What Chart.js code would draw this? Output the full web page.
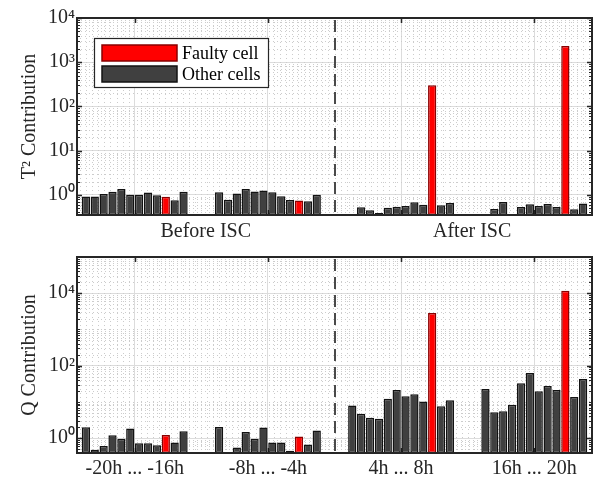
<!DOCTYPE html>
<html><head><meta charset="utf-8">
<script src="https://cdn.jsdelivr.net/npm/chart.js@4.4.1/dist/chart.umd.min.js"></script>
<style>
html,body{margin:0;padding:0;background:#fff;}
#wrap{position:relative;width:594px;height:484px;overflow:hidden;}
canvas{position:absolute;left:0;}
#c1{top:0;}
#c2{top:240px;}
</style></head><body>
<div id="wrap"><canvas id="c1" width="594" height="240"></canvas><canvas id="c2" width="594" height="244"></canvas></div>
<script>
// ---------- data ----------
const seriesLabels = ['Faulty cell', 'Other cells'];
const phaseLabels = ['Before ISC', 'After ISC'];
const windowLabels = ['-20h ... -16h', '-8h ... -4h', '4h ... 8h', '16h ... 20h'];
const faultyCellIndex = 9;           // 10th cell of each window is the faulty one
const windowStart = [1, 16, 31, 46]; // category slot of first cell of each window
const windowCenters = [6.5, 21.5, 36.5, 51.5];
const phaseCenters = [14.5, 44.5];
const dividerPos = 29;

const t2Win1 = [0.92, 0.92, 1.05, 1.17, 1.35, 1.0, 1.0, 1.13, 0.98, 0.90, 0.75, 1.17];
const t2Win2 = [1.15, 0.77, 1.07, 1.35, 1.19, 1.25, 1.15, 0.93, 0.76, 0.74, 0.72, 1.0];
const t2Win3 = [0.34, 0.525, 0.45, 0.39, 0.51, 0.54, 0.56, 0.68, 0.60, 300, 0.58, 0.65];
const t2Win4 = [0.34, 0.48, 0.69, 0.35, 0.53, 0.61, 0.56, 0.62, 0.53, 2340, 0.47, 0.64];

const qWin1 = [2.0, 0.48, 0.61, 1.21, 0.96, 1.84, 0.73, 0.73, 0.64, 1.23, 0.76, 1.56];
const qWin2 = [2.05, 0.38, 0.55, 1.49, 0.97, 1.96, 0.76, 0.76, 0.45, 1.11, 0.67, 1.62];
const qWin3 = [7.96, 4.71, 3.66, 3.43, 12.2, 21.5, 14.3, 16.3, 10.3, 2870, 7.6, 11.1];
const qWin4 = [22.9, 5.21, 5.55, 8.33, 32.6, 63, 19.7, 27.7, 21.5, 11800, 13.8, 43.1];

const t2Ticks = [1, 10, 100, 1000, 10000];
const qTicks = [1, 100, 10000];

// ---------- helpers ----------
const FONT = "'Liberation Serif', 'Times New Roman', serif";
const INK = '#262626';
Chart.defaults.font.family = FONT;
Chart.defaults.color = INK;

const SUP = '⁰¹²³⁴⁵⁶⁷⁸⁹';
function powLabel(v) {
  const e = Math.round(Math.log10(v));
  return '10' + String(e).split('').map(c => c === '-' ? '⁻' : SUP[+c]).join('');
}

function buildDatasets(wins) {
  const faulty = [], other = [];
  wins.forEach((vals, w) => vals.forEach((v, i) => {
    const pt = {x: windowStart[w] + i, y: v};
    (i === faultyCellIndex ? faulty : other).push(pt);
  }));
  const common = {borderWidth: 1.5, barPercentage: 0.93, categoryPercentage: 1.0, grouped: false, borderSkipped: false};
  return [
    Object.assign({label: seriesLabels[0], data: faulty, backgroundColor: '#ff0000', borderColor: '#8a0000'}, common),
    Object.assign({label: seriesLabels[1], data: other, backgroundColor: '#404040', borderColor: '#121212'}, common)
  ];
}

const decorPlugin = {
  id: 'decor',
  beforeDatasetsDraw(chart, args, opts) {
    const {ctx, chartArea: a} = chart;
    const ys = chart.scales.y, xs = chart.scales.x;
    const major = opts.yMajor;
    ctx.save();
    ctx.beginPath(); ctx.rect(a.left, a.top, a.right - a.left, a.bottom - a.top); ctx.clip();
    // minor log grid
    ctx.strokeStyle = '#cccccc'; ctx.lineWidth = 1; ctx.setLineDash([1, 3]);
    const minors = [];
    for (let e = -2; e <= 6; e++) for (let k = 1; k <= 9; k++) {
      const v = k * Math.pow(10, e);
      if (v > ys.min && v < ys.max && !major.includes(v)) minors.push(v);
    }
    minors.forEach(v => {
      const y = Math.round(ys.getPixelForValue(v)) + 0.5;
      ctx.beginPath(); ctx.moveTo(a.left, y); ctx.lineTo(a.right, y); ctx.stroke();
    });
    // minor vertical grid
    const step = 15 / 22;
    const xm = [];
    for (let v = windowCenters[0]; v < xs.max; v += step) xm.push(v);
    for (let v = windowCenters[0] - step; v > xs.min; v -= step) xm.push(v);
    xm.forEach(v => {
      if (windowCenters.some(c => Math.abs(c - v) < 0.01)) return;
      const x = Math.round(xs.getPixelForValue(v)) + 0.5;
      ctx.beginPath(); ctx.moveTo(x, a.top); ctx.lineTo(x, a.bottom); ctx.stroke();
    });
    ctx.setLineDash([]);
    ctx.restore();
    // tick marks (inside)
    ctx.save();
    ctx.strokeStyle = INK; ctx.lineWidth = 1;
    minors.forEach(v => {
      const y = Math.round(ys.getPixelForValue(v)) + 0.5;
      ctx.beginPath(); ctx.moveTo(a.left, y); ctx.lineTo(a.left + 3, y);
      ctx.moveTo(a.right, y); ctx.lineTo(a.right - 3, y); ctx.stroke();
    });
    ctx.lineWidth = 1.5;
    major.forEach(v => {
      const y = Math.round(ys.getPixelForValue(v)) + 0.5;
      ctx.beginPath(); ctx.moveTo(a.left, y); ctx.lineTo(a.left + 5, y);
      ctx.moveTo(a.right, y); ctx.lineTo(a.right - 5, y); ctx.stroke();
    });
    windowCenters.forEach(v => {
      const x = Math.round(xs.getPixelForValue(v)) + 0.5;
      ctx.beginPath(); ctx.moveTo(x, a.top); ctx.lineTo(x, a.top + 5);
      ctx.moveTo(x, a.bottom); ctx.lineTo(x, a.bottom - 5); ctx.stroke();
    });
    ctx.restore();
  },
  afterDatasetsDraw(chart, args, opts) {
    const {ctx, chartArea: a} = chart;
    const xs = chart.scales.x;
    ctx.save();
    // divider
    const dx = Math.round(xs.getPixelForValue(dividerPos));
    ctx.strokeStyle = '#4a4a4a'; ctx.lineWidth = 2; ctx.setLineDash([12, 6]);
    ctx.beginPath(); ctx.moveTo(dx, a.top + 2); ctx.lineTo(dx, a.bottom); ctx.stroke();
    ctx.setLineDash([]);
    // box
    ctx.strokeStyle = INK; ctx.lineWidth = 2;
    ctx.strokeRect(a.left, a.top, a.right - a.left, a.bottom - a.top);
    ctx.restore();
  },
  afterDraw(chart, args, opts) {
    if (!opts.legend) return;
    const {ctx} = chart;
    const L = opts.legend;
    ctx.save();
    ctx.fillStyle = '#fff'; ctx.fillRect(L.x, L.y, L.w, L.h);
    ctx.strokeStyle = INK; ctx.lineWidth = 1.2; ctx.strokeRect(L.x + 0.5, L.y + 0.5, L.w, L.h);
    chart.data.datasets.forEach((ds, i) => {
      const cy = L.y + L.first + i * L.gap;
      ctx.fillStyle = ds.backgroundColor; ctx.strokeStyle = ds.borderColor; ctx.lineWidth = 1.5;
      ctx.fillRect(L.x + 8, cy - 8, 75, 16);
      ctx.strokeRect(L.x + 8, cy - 8, 75, 16);
      ctx.fillStyle = '#000'; ctx.font = '18px ' + FONT; ctx.textBaseline = 'middle'; ctx.textAlign = 'left';
      ctx.fillText(ds.label, L.x + 88, cy + 1);
    });
    ctx.restore();
  }
};

function makeChart(id, wins, yTitle, yMin, yMax, yTicks, xTicks, xLabel, gridColor, xAxisH, legend) {
  return new Chart(document.getElementById(id), {
    type: 'bar',
    data: {datasets: buildDatasets(wins)},
    plugins: [decorPlugin],
    options: {
      responsive: false, animation: false, devicePixelRatio: 1,
      layout: {padding: {left: 0, right: 2, top: id === 'c1' ? 18 : 17, bottom: 0}},
      plugins: {legend: {display: false}, tooltip: {enabled: false},
        decor: {yMajor: yTicks, legend: legend}},
      scales: {
        x: {
          type: 'linear', min: 0, max: 58, offset: false,
          grid: {offset: false, drawTicks: false, color: gridColor, lineWidth: 1},
          border: {display: false},
          afterBuildTicks: s => { s.ticks = xTicks.map(v => ({value: v})); },
          afterFit: s => { s.height = xAxisH; },
          ticks: {autoSkip: false, maxRotation: 0, padding: id === 'c1' ? 5 : 4, color: INK,
            font: {size: 20, family: FONT}, callback: v => xLabel(v)}
        },
        y: {
          type: 'logarithmic', min: yMin, max: yMax,
          grid: {drawTicks: false, color: '#dcdcdc', lineWidth: 1},
          border: {display: false},
          afterBuildTicks: s => { s.ticks = yTicks.map(v => ({value: v})); },
          afterFit: s => { s.width = 77; },
          ticks: {padding: 2, color: INK, font: {size: 20, family: FONT}, callback: v => powLabel(v)},
          title: {display: true, text: yTitle, color: INK, font: {size: 20, family: FONT},
            padding: {top: 18, bottom: 0}}
        }
      }
    }
  });
}

const topXTicks = windowCenters.concat(phaseCenters).sort((a, b) => a - b);
makeChart('c1', [t2Win1, t2Win2, t2Win3, t2Win4], 'T² Contribution', 0.35, 10000, t2Ticks,
  topXTicks,
  v => { const i = phaseCenters.indexOf(v); return i >= 0 ? phaseLabels[i] : ''; },
  ctx => (ctx.tick && phaseCenters.includes(ctx.tick.value)) ? 'rgba(0,0,0,0)' : '#dcdcdc',
  25, {x: 94, y: 38, w: 174, h: 49, first: 15, gap: 21});

makeChart('c2', [qWin1, qWin2, qWin3, qWin4], 'Q Contribution', 0.39, 100000, qTicks,
  windowCenters,
  v => { const i = windowCenters.indexOf(v); return i >= 0 ? windowLabels[i] : ''; },
  '#dcdcdc', 31, null);
</script>
</body></html>
